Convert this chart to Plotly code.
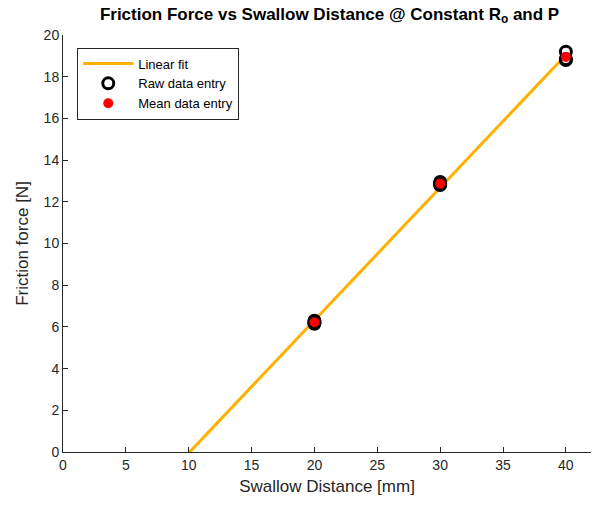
import numpy as np
import plotly.graph_objects as go

# Measured friction force at each swallow distance
distance_mm = [20, 20, 20, 30, 30, 30, 40, 40, 40]
friction_raw = [6.30, 6.15, 6.20, 12.95, 12.80, 12.85, 19.20, 18.80, 18.85]

mean_distance = [20, 30, 40]
mean_friction = [6.22, 12.87, 18.95]

# Least-squares line through the mean values
slope, intercept = np.polyfit(mean_distance, mean_friction, 1)
fit_x = np.array([10.0, 40.0])
fit_y = slope * fit_x + intercept

axis_color = "#262626"
font_family = "Liberation Sans, Arial, sans-serif"

fig = go.Figure()
fig.add_trace(go.Scatter(
    x=fit_x, y=fit_y, mode="lines", name="Linear fit",
    line=dict(color="#FFB000", width=3), cliponaxis=True,
))
fig.add_trace(go.Scatter(
    x=distance_mm, y=friction_raw, mode="markers", name="Raw data entry",
    marker=dict(symbol="circle-open", size=11, color="black", line=dict(width=3, color="black")),
    cliponaxis=False,
))
fig.add_trace(go.Scatter(
    x=mean_distance, y=mean_friction, mode="markers", name="Mean data entry",
    marker=dict(symbol="circle", size=10, color="#FF0000"),
    cliponaxis=False,
))

fig.update_layout(
    width=597, height=508,
    margin=dict(l=63, r=6, t=35, b=56),
    paper_bgcolor="white", plot_bgcolor="white",
    font=dict(family=font_family, color=axis_color, size=14),
    title=dict(
        text="<b>Friction Force vs Swallow Distance @ Constant R<sub>o</sub> and P</b>",
        x=0.552, xanchor="center", y=0.985, yanchor="top",
        font=dict(size=17, color="black"),
    ),
    showlegend=True,
    legend=dict(
        x=0.027, y=0.97, xanchor="left", yanchor="top",
        bgcolor="white", bordercolor=axis_color, borderwidth=1,
        font=dict(size=13, color="black"),
        tracegroupgap=0, itemwidth=50,
    ),
    xaxis=dict(
        range=[0, 42], tickvals=[0, 5, 10, 15, 20, 25, 30, 35, 40],
        showgrid=False, zeroline=False, showline=True, linecolor=axis_color, linewidth=1,
        ticks="inside", ticklen=5, tickcolor=axis_color,
        title=dict(text="Swallow Distance [mm]", font=dict(size=17), standoff=8),
    ),
    yaxis=dict(
        range=[0, 20], tickvals=list(range(0, 21, 2)),
        showgrid=False, zeroline=False, showline=True, linecolor=axis_color, linewidth=1,
        ticks="inside", ticklen=5, tickcolor=axis_color,
        title=dict(text="Friction force [N]", font=dict(size=17), standoff=10),
    ),
)

fig.write_html("out.html")
